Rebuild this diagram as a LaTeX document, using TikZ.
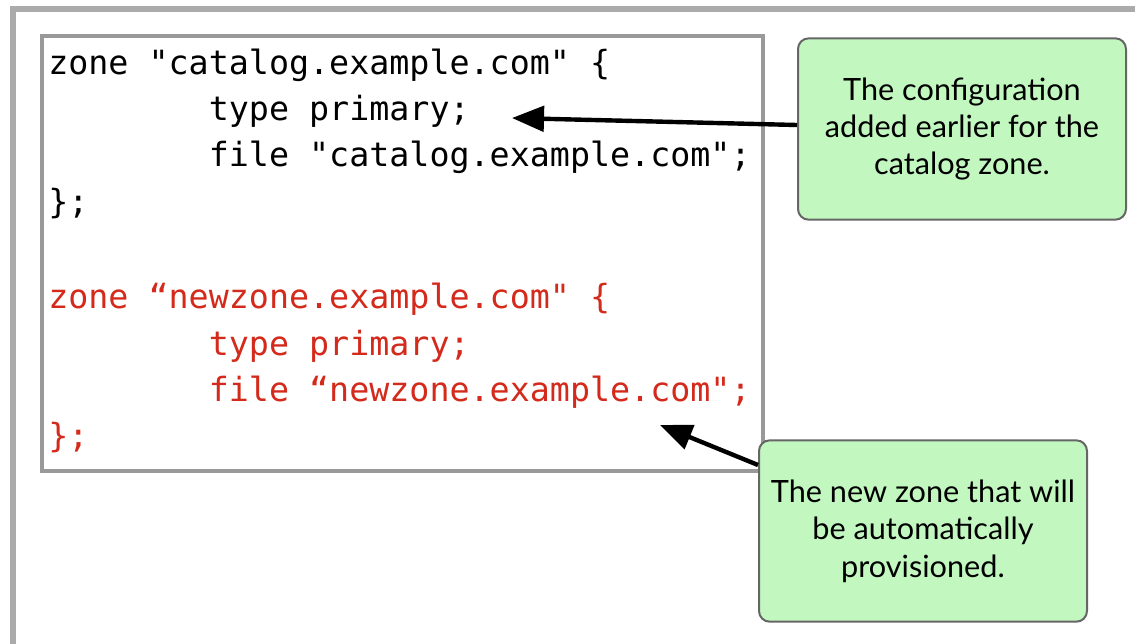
\documentclass[tikz,border=0pt]{standalone}
\usepackage{fontspec}
\setmainfont{Lato}
\newfontfamily\codefont{DejaVu Sans Mono}
\usetikzlibrary{arrows.meta}
\definecolor{framegray}{HTML}{ABABAB}
\definecolor{boxgray}{HTML}{999999}
\definecolor{codered}{HTML}{D42A1C}
\definecolor{notegreen}{HTML}{C2F8C0}
\definecolor{noteedge}{HTML}{666666}
\tikzset{
  codeline/.style={inner sep=0pt, anchor=base west, font=\codefont\fontsize{25}{30}\selectfont},
  note/.style={draw=noteedge, line width=1.5pt, fill=notegreen, rounded corners=8pt,
    align=center, inner sep=0pt, font=\fontsize{23}{28}\selectfont},
  pointer/.style={line width=3.3pt, -{Triangle[length=24pt,width=19pt]}}
}
\newcommand{\ind}{\phantom{12345678}}
\begin{document}
\begin{tikzpicture}[x=0.75pt,y=-0.75pt]
  \useasboundingbox (0,0) rectangle (1135,643);
  \clip (0,0) rectangle (1135,643);
  % outer frame, running off the right and bottom
  \draw[framegray, line width=5pt] (13,9) rectangle (1160,680);
  % code box
  \draw[boxgray, line width=3pt, fill=white] (42,36) rectangle (763,471);
  \node[codeline] (ln1) at (48,74) {zone "catalog.example.com" \{};
  \node[codeline] (ln2) at (48,120) {\ind type primary;};
  \node[codeline] (ln3) at (48,166) {\ind file "catalog.example.com";};
  \node[codeline] (ln4) at (48,213) {\};};
  \node[codeline, codered] (ln5) at (48,308) {zone “newzone.example.com" \{};
  \node[codeline, codered] (ln6) at (48,355) {\ind type primary;};
  \node[codeline, codered] (ln7) at (48,401) {\ind file “newzone.example.com";};
  \node[codeline, codered] (ln8) at (48,447) {\};};
  % callouts
  \node[note, minimum width=246pt, minimum height=136pt] (noteold) at (962,129)
    {The configuration\\added earlier for the\\catalog zone.};
  \node[note, minimum width=246pt, minimum height=136pt] (notenew) at (923,531)
    {The new zone that will\\be automatically\\provisioned.};
  \coordinate (tipold) at (512,118);
  \coordinate (tipnew) at (660,425);
  \draw[pointer] (noteold.west) ++(0,-4) -- (tipold);
  \draw[pointer] (notenew.west) ++(0,-66) -- (tipnew);
\end{tikzpicture}
\end{document}
